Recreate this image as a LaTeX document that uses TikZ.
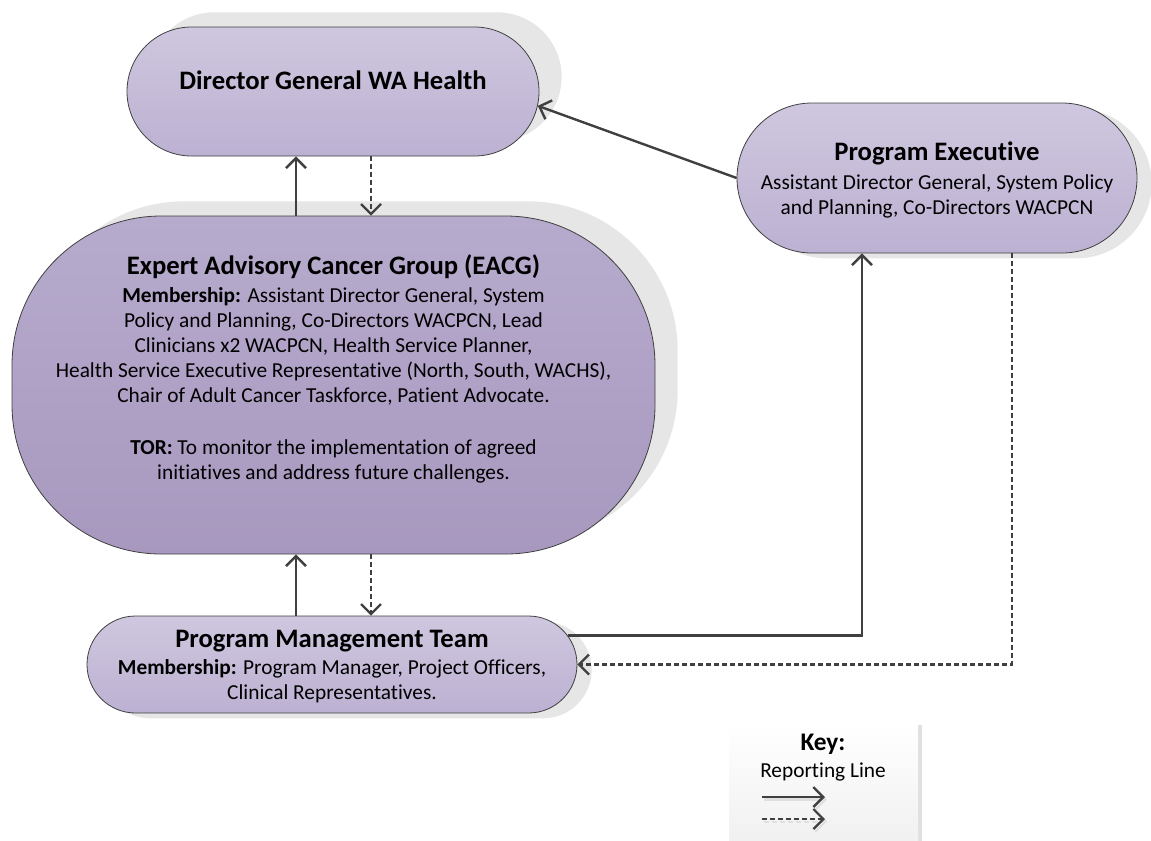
\documentclass[tikz,border=0pt]{standalone}
\usepackage{fontspec}
\setmainfont{Carlito}[Ligatures=NoCommon]
\usetikzlibrary{arrows.meta,shapes.misc,shadows}

\definecolor{pilltop}{HTML}{CFC7DF}
\definecolor{pillbot}{HTML}{BCB1D2}
\definecolor{bigtop}{HTML}{B6ABCD}
\definecolor{bigbot}{HTML}{A898BF}
\definecolor{shadegray}{HTML}{E6E6E6}
\definecolor{linegray}{HTML}{404040}
\definecolor{keybot}{HTML}{EEEEEE}

\newcommand{\boxtitlefont}{\fontsize{20}{24}\selectfont\bfseries}
\newcommand{\boxbodyfont}{\fontsize{16}{18.75}\selectfont}

\tikzset{
  pill/.style={rounded rectangle, draw=linegray, line width=0.6pt, top color=pilltop, bottom color=pillbot, inner sep=0pt},
  upshade/.style={drop shadow={shadow xshift=17pt, shadow yshift=11pt, fill=shadegray, opacity=1}},
  downshade/.style={drop shadow={shadow xshift=11pt, shadow yshift=-4pt, fill=shadegray, opacity=1}},
  rep/.style={draw=linegray, line width=1.8pt, -{Straight Barb[length=7.5pt,width=15pt]}},
  repdash/.style={rep, line width=1.7pt, dash pattern=on 3.5pt off 2.5pt},
  boxhead/.style={font=\boxtitlefont, align=center, inner sep=0pt},
  boxbody/.style={font=\boxbodyfont, align=center, inner sep=0pt},
}

\begin{document}
\begin{tikzpicture}[x=0.75pt,y=0.75pt,yscale=-1,xscale=1]
\useasboundingbox (0,0) rectangle (1151,840);

% Boxes
\node[pill, upshade, minimum width=309pt, minimum height=96.75pt] (dg) at (333,91.5) {};
\node[pill, rectangle, rounded corners=112pt, top color=bigtop, bottom color=bigbot, upshade, minimum width=482.25pt, minimum height=253.5pt] (eacg) at (333.5,385) {};
\node[pill, downshade, minimum width=300pt, minimum height=112.5pt] (pe) at (937,178) {};
\node[pill, downshade, minimum width=367.5pt, minimum height=72.75pt] (pmt) at (332,664.5) {};

% Box texts
\node[boxhead] (dgtext) at (333,80) {Director General WA Health};
\node[boxbody] (eacgtext) at (333.5,369) {{\boxtitlefont Expert Advisory Cancer Group (EACG)}\\[2pt]
  \textbf{Membership:} Assistant Director General, System\\
  Policy and Planning, Co-Directors WACPCN, Lead\\
  Clinicians x2 WACPCN, Health Service Planner,\\
  Health Service Executive Representative (North, South, WACHS),\\
  Chair of Adult Cancer Taskforce, Patient Advocate.\\[20pt]
  \textbf{TOR:} To monitor the implementation of agreed\\
  initiatives and address future challenges.};
\node[boxbody] (petext) at (937,180) {{\boxtitlefont Program Executive}\\[3pt]
  Assistant Director General, System Policy\\
  and Planning, Co-Directors WACPCN};
\node[boxbody] (pmttext) at (332,666.5) {{\boxtitlefont Program Management Team}\\[2pt]
  \textbf{Membership:} Program Manager, Project Officers,\\
  Clinical Representatives.};

% Reporting lines
\coordinate (colA) at (296,0);
\coordinate (colB) at (371,0);
\coordinate (colC) at (862,0);
\coordinate (colD) at (1012,0);
\draw[rep] (eacg.north -| colA) -- (dg.south -| colA);
\draw[repdash] (dg.south -| colB) -- (eacg.north -| colB);
\draw[rep] (pmt.north -| colA) -- (eacg.south -| colA);
\draw[repdash] (eacg.south -| colB) -- (pmt.north -| colB);
\draw[rep] (pe.west) -- (dg.-4);
\draw[rep] (pmt.7.5) -| (pe.south -| colC);
\draw[repdash] (pe.south -| colD) |- (pmt.east);

% Key
\node[rectangle, top color=white, bottom color=keybot, inner sep=0pt, minimum width=141.75pt, minimum height=101.25pt,
  drop shadow={shadow xshift=3pt, shadow yshift=0pt, fill=black!12, opacity=1}] (key) at (823.5,792.5) {};
\node[boxhead, font=\fontsize{19}{22}\selectfont\bfseries] (keyhead) at (823,744) {Key:};
\node[boxbody] (keyline) at (823,772) {Reporting Line};
\coordinate (ka) at (762,797);
\coordinate (kb) at (825,797);
\coordinate (kc) at (762,819);
\coordinate (kd) at (825,819);
\draw[rep, draw=black!12, transform canvas={xshift=1.5pt,yshift=-2pt}] (ka) -- (kb);
\draw[repdash, draw=black!12, transform canvas={xshift=1.5pt,yshift=-2pt}] (kc) -- (kd);
\draw[rep] (ka) -- (kb);
\draw[repdash] (kc) -- (kd);

\end{tikzpicture}
\end{document}
